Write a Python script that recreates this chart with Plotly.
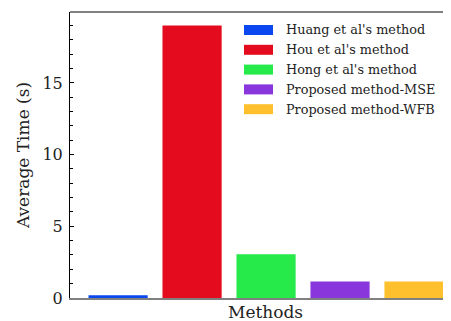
import plotly.graph_objects as go

methods = ["Huang et al's method", "Hou et al's method", "Hong et al's method",
           "Proposed method-MSE", "Proposed method-WFB"]
avg_time = [0.2, 19.0, 3.05, 1.15, 1.15]
colors = ["#0a47ef", "#e50b1e", "#25ea4a", "#8936dc", "#fec12d"]
y_ticks = [0, 5, 10, 15]

# page body has an 8px margin, so the figure starts at (8, 8) in the window
OFF = 8
W, H = 451 - OFF, 321 - OFF
L, R, T, B = 70 - OFF, 0, 12 - OFF, 23
FONT = "DejaVu Serif"

fig = go.Figure()
fig.add_trace(go.Bar(
    x=list(range(len(methods))), y=avg_time, width=0.8,
    marker=dict(color=colors, line=dict(width=0)), showlegend=False,
))

pw, ph = W - L - R, H - T - B
def px_to_paper(px, py):
    # px, py in window pixels
    return (px - OFF - L) / pw, (H - B - (py - OFF)) / ph

shapes = [dict(type="line", xref="paper", yref="paper", x0=0, x1=1, y0=1, y1=1,
               line=dict(color="#808080", width=2))]
annotations = []
for i, (name, c) in enumerate(zip(methods, colors)):
    cy = 30 + i * 19.8
    x0, y0 = px_to_paper(244, cy - 5)
    x1, y1 = px_to_paper(273, cy + 5)
    shapes.append(dict(type="rect", xref="paper", yref="paper", x0=x0, x1=x1, y0=y0, y1=y1,
                       fillcolor=c, line=dict(width=0)))
    tx, ty = px_to_paper(284, cy)
    annotations.append(dict(text=name, xref="paper", yref="paper", x=tx, y=ty,
                            xanchor="left", yanchor="middle", showarrow=False,
                            font=dict(family=FONT, size=12.8, color="#222")))
mx, my = px_to_paper(265, 312)
annotations.append(dict(text="Methods", xref="paper", yref="paper", x=mx, y=my,
                        xanchor="center", yanchor="middle", showarrow=False,
                        font=dict(family=FONT, size=17, color="#222")))

fig.update_layout(
    width=W, height=H, margin=dict(l=L, r=R, t=T, b=B),
    plot_bgcolor="white", paper_bgcolor="white",
    font=dict(family=FONT, color="#222"),
    shapes=shapes, annotations=annotations,
    xaxis=dict(range=[-0.65, 4.5], showgrid=False, zeroline=False, showticklabels=False,
               ticks="", showline=True, linecolor="#808080", linewidth=2),
    yaxis=dict(range=[0, 19.95], tickvals=y_ticks, showgrid=False, zeroline=False,
               ticks="inside", ticklen=4, tickwidth=1, tickcolor="black",
               minor=dict(dtick=1, ticks="inside", ticklen=3, tickwidth=1, tickcolor="black"),
               showline=True, linecolor="black", linewidth=1,
               tickfont=dict(family=FONT, size=16, color="#222"), ticklabelstandoff=3,
               title=dict(text="Average Time (s)", font=dict(family=FONT, size=17, color="#222"),
                          standoff=8)),
)
fig.write_html("out.html")
